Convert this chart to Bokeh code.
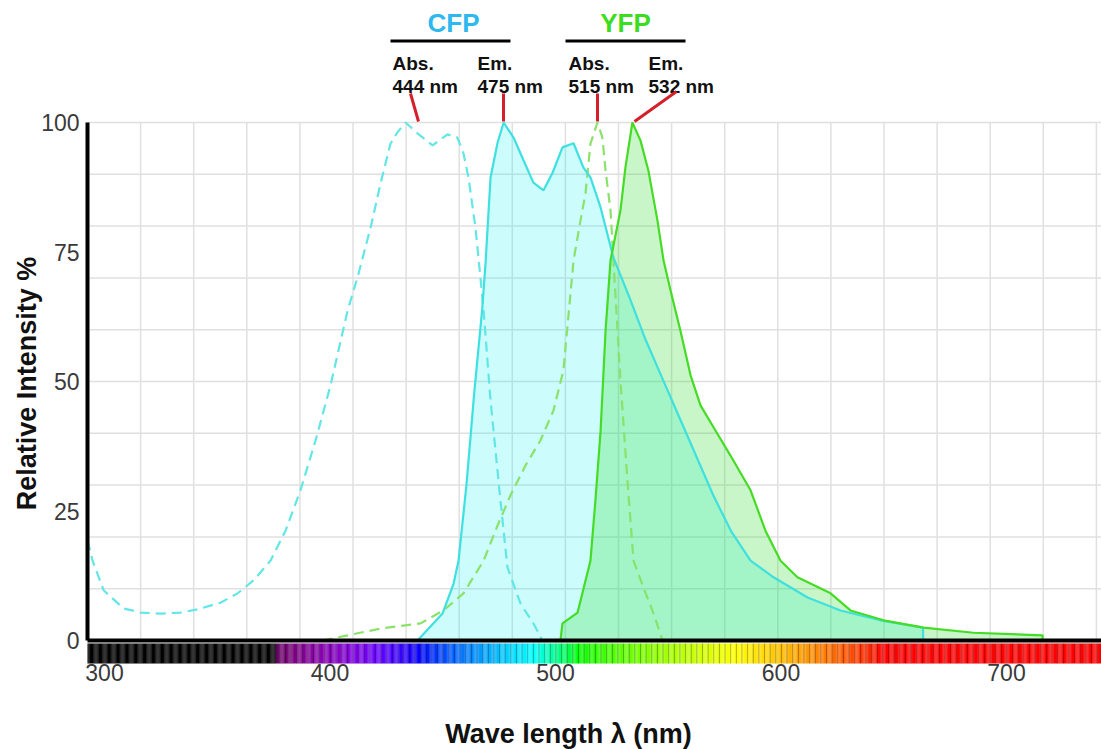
import numpy as np
from math import pi
from bokeh.plotting import figure
from bokeh.models import Range1d, FixedTicker
from bokeh.embed import file_html
from bokeh.resources import INLINE
from bokeh.core.properties import value

# ---------------- data ----------------
cfp_abs_wl = [292.5, 294.7, 299.6, 308.4, 316.0, 324.8, 333.7, 341.2, 351.4, 359.0,
              366.1, 373.6, 380.3, 386.9, 393.6, 400.2, 407.8, 412.2, 418.0, 422.4,
              426.8, 429.9, 433.5, 438.8, 445.5, 452.1, 456.5, 459.2, 461.4, 464.5,
              466.7, 468.1, 471.2, 475.6, 478.7, 484.5, 490.2, 494.2]
cfp_abs_val = [19.3, 15.4, 9.7, 6.2, 5.4, 5.2, 5.4, 6.0, 7.3, 9.1,
               11.6, 15.4, 21.2, 29.0, 38.6, 49.2, 63.7, 70.1, 79.7, 88.2,
               95.9, 98.1, 100.0, 97.9, 95.6, 97.7, 97.1, 94.0, 89.4, 79.7,
               70.1, 63.7, 46.3, 27.0, 14.1, 7.1, 3.3, 0.0]

cfp_em_wl = [438.8, 449.9, 454.8, 457.0, 460.5, 464.0, 467.5, 469.0, 471.2, 474.3,
             477.0, 481.4, 485.8, 490.2, 494.7, 498.7, 503.1, 508.0, 512.4, 515.5,
             520.0, 525.7, 533.0, 540.0, 547.0, 555.0, 563.0, 570.0, 578.0, 586.5,
             596.7, 611.8, 626.4, 644.0, 663.0, 663.0]
cfp_em_val = [0.0, 5.2, 11.0, 15.4, 30.0, 48.0, 64.0, 73.0, 89.4, 96.1,
              100.0, 97.1, 92.7, 88.4, 86.9, 90.3, 95.2, 96.0, 91.3, 89.4,
              83.6, 73.9, 66.0, 58.0, 51.0, 43.0, 35.0, 28.0, 21.0, 15.4,
              12.2, 8.3, 5.8, 3.9, 2.5, 0.0]

yfp_abs_wl = [396.7, 407.8, 422.4, 440.1, 450.3, 459.2, 468.1, 474.3, 480.0, 486.7,
              493.3, 499.1, 503.5, 508.0, 511.1, 513.3, 515.5, 518.6, 520.8, 522.2,
              524.4, 525.7, 528.8, 531.9, 534.6, 539.0, 543.5, 547.5]
yfp_abs_val = [0.0, 1.0, 2.3, 3.3, 5.8, 9.1, 15.4, 22.2, 28.0, 33.8,
               38.6, 44.4, 52.1, 73.4, 81.1, 86.3, 95.9, 100.0, 97.1, 90.7,
               83.0, 73.4, 50.2, 30.9, 15.4, 10.2, 5.2, 0.0]

yfp_em_wl = [502.2, 503.1, 509.8, 515.5, 517.7, 520.0, 522.2, 524.4, 528.8, 531.0,
             534.1, 537.7, 541.2, 545.2, 547.9, 551.0, 555.4, 559.9, 564.3, 571.0,
             577.6, 586.5, 593.1, 599.8, 607.3, 622.0, 630.8, 645.5, 663.2, 685.4,
             716.0, 716.0]
yfp_em_val = [0.0, 3.3, 5.4, 15.4, 27.0, 40.5, 59.8, 73.4, 83.0, 91.3,
              100.0, 96.5, 90.7, 81.1, 73.4, 67.6, 59.8, 51.2, 45.4, 40.5,
              35.7, 29.0, 21.2, 15.4, 12.2, 9.1, 5.8, 3.9, 2.5, 1.5,
              1.0, 0.0]

x_ticks = [300, 400, 500, 600, 700]
y_ticks = [0, 25, 50, 75, 100]
y_grid = [10, 20, 30, 40, 50, 60, 70, 80, 90, 100]

protein_names = ["CFP", "YFP"]
peak_kinds = ["Abs.", "Em.", "Abs.", "Em."]
peak_labels = ["444 nm", "475 nm", "515 nm", "532 nm"]

x_title = "Wave length \u03bb (nm)"
y_title = "Relative Intensity %"

# ---------------- layout helpers (canvas pixel -> data) ----------------
def wl_at(px):
    return 300 + (px - 104) / 2.255

def val_at(py):
    return (640 - py) / 5.18

BASE_SHIFT = 9   # alphabetic-baseline correction of the text glyph, px

CFP_LINE = "#3fe0e0"
YFP_LINE = "#45dc25"
CFP_DASH = "#62e6e6"
YFP_DASH = "#8ae26a"
GRID = "#e0e0e0"
FONT = value("Liberation Sans")

W, H = 1101, 749
AX_L, BAR_T, BAR_B = 87, 643, 663
X0, X1 = wl_at(AX_L), wl_at(W)

p = figure(width=W, height=H, output_backend="svg", toolbar_location=None,
           x_range=Range1d(wl_at(0), wl_at(W)),
           y_range=Range1d(val_at(H), val_at(0)),
           min_border_left=0, min_border_right=0, min_border_top=0,
           min_border_bottom=0)
p.outline_line_color = None
p.background_fill_color = "white"
p.xgrid.visible = False
p.ygrid.visible = False

# grid (only inside the plotting box)
grid_x = [wl_at(AX_L + k * 53.1) for k in range(1, 20)]
p.segment(x0=grid_x, y0=0, x1=grid_x, y1=100, line_color=GRID, line_width=1.5)
p.segment(x0=X0, y0=y_grid, x1=X1, y1=y_grid, line_color=GRID, line_width=1.5)

# y axis, drawn at the left edge of the plotting box
p.yaxis.fixed_location = X0
p.yaxis.ticker = FixedTicker(ticks=y_ticks)
p.yaxis.bounds = (0, 100)
p.yaxis.axis_line_width = 4
p.yaxis.axis_line_color = "black"
p.yaxis.major_tick_out = 0
p.yaxis.major_tick_in = 0
p.yaxis.minor_tick_out = 0
p.yaxis.minor_tick_in = 0
p.yaxis.major_label_standoff = 8
p.yaxis.major_label_text_font = "Liberation Sans"
p.yaxis.major_label_text_font_size = "23px"
p.yaxis.major_label_text_color = "#3a3a3a"

# x axis, labels under the spectrum bar
p.xaxis.fixed_location = val_at(BAR_B)
p.xaxis.ticker = FixedTicker(ticks=x_ticks)
p.xaxis.axis_line_color = None
p.xaxis.major_tick_out = 0
p.xaxis.major_tick_in = 0
p.xaxis.minor_tick_out = 0
p.xaxis.minor_tick_in = 0
p.xaxis.major_label_standoff = 0
p.xaxis.major_label_text_font = "Liberation Sans"
p.xaxis.major_label_text_font_size = "23px"
p.xaxis.major_label_text_color = "#3a3a3a"

# axis titles
p.text(x=[wl_at(568)], y=[val_at(742 - BASE_SHIFT)], text=[x_title],
       text_font=FONT, text_font_style="bold", text_font_size="27px",
       text_color="#111111", text_align="center", text_baseline="alphabetic")
p.text(x=[wl_at(26)], y=[val_at(383)], text=[y_title], angle=pi / 2,
       text_font=FONT, text_font_style="bold", text_font_size="27px",
       text_color="#111111", text_align="center", text_baseline="middle")

# filled emission areas
p.varea(x=cfp_em_wl, y1=0, y2=cfp_em_val, fill_color="#00eeee", fill_alpha=0.2)
p.varea(x=yfp_em_wl, y1=0, y2=yfp_em_val, fill_color="#33dd33", fill_alpha=0.27)

# spectra lines
p.line(cfp_abs_wl, cfp_abs_val, line_color=CFP_DASH, line_width=2.2, line_dash="10 6")
p.line(yfp_abs_wl, yfp_abs_val, line_color=YFP_DASH, line_width=2.2, line_dash="10 6")
p.line(cfp_em_wl, cfp_em_val, line_color=CFP_LINE, line_width=2.2)
p.line(yfp_em_wl, yfp_em_val, line_color=YFP_LINE, line_width=2.2)

# baseline of the plotting box
p.segment(x0=[X0], y0=[0], x1=[X1], y1=[0], line_color="black", line_width=4)

# spectrum bar under the axis
def spectrum_rgb(w):
    if w < 376:
        return (0, 0, 0)
    wc = max(w, 380.0)
    if wc < 440:
        r, g, b = -(wc - 440) / 60.0, 0.0, 1.0
    elif wc < 490:
        r, g, b = 0.0, (wc - 440) / 50.0, 1.0
    elif wc < 510:
        r, g, b = 0.0, 1.0, -(wc - 510) / 20.0
    elif wc < 580:
        r, g, b = (wc - 510) / 70.0, 1.0, 0.0
    elif wc < 645:
        r, g, b = 1.0, -(wc - 645) / 65.0, 0.0
    else:
        r, g, b = 1.0, 0.0, 0.0
    f = 0.3 + 0.7 * (w - 376) / 44.0 if w < 420 else 1.0
    return tuple(int(round(255 * (c * f) ** 0.8)) for c in (r, g, b))

step = 0.5
bar_left = np.arange(X0, X1 + step, step)
bar_colors = []
for i, w in enumerate(bar_left):
    r, g, b = spectrum_rgb(w + step / 2)
    if w >= 376 and i % 5 == 0:
        r, g, b = int(r * 0.72), int(g * 0.72), int(b * 0.72)
    bar_colors.append("#%02x%02x%02x" % (r, g, b))
p.quad(left=bar_left, right=np.minimum(bar_left + step * 1.08, X1),
       bottom=val_at(BAR_B), top=val_at(BAR_T), fill_color=bar_colors, line_color=None)

# ---------------- top annotations ----------------
p.text(x=[wl_at(453), wl_at(625)], y=[val_at(31.5 - BASE_SHIFT)] * 2, text=protein_names,
       text_font=FONT, text_font_style="bold", text_font_size="26px",
       text_align="center", text_baseline="alphabetic",
       text_color=["#2db8f0", "#3cdc1e"])
p.segment(x0=[wl_at(390), wl_at(565)], y0=[val_at(40.5)] * 2,
          x1=[wl_at(510), wl_at(685)], y1=[val_at(40.5)] * 2,
          line_color="black", line_width=3)

label_x = [wl_at(392), wl_at(477), wl_at(568), wl_at(648)]
p.text(x=label_x, y=[val_at(71.5 - BASE_SHIFT)] * 4, text=peak_kinds,
       text_font=FONT, text_font_style="bold", text_font_size="19px",
       text_align="left", text_baseline="alphabetic", text_color="#111111")
p.text(x=label_x, y=[val_at(94.5 - BASE_SHIFT)] * 4, text=peak_labels,
       text_font=FONT, text_font_style="bold", text_font_size="19px",
       text_align="left", text_baseline="alphabetic", text_color="#111111")

p.segment(x0=[wl_at(410), wl_at(503), wl_at(597), wl_at(676)],
          y0=[val_at(93)] * 3 + [val_at(91)],
          x1=[wl_at(418), wl_at(503), wl_at(597), wl_at(634)],
          y1=[val_at(121)] * 4,
          line_color="#d4202a", line_width=3)

open("out.html", "w").write(file_html(p, INLINE))
